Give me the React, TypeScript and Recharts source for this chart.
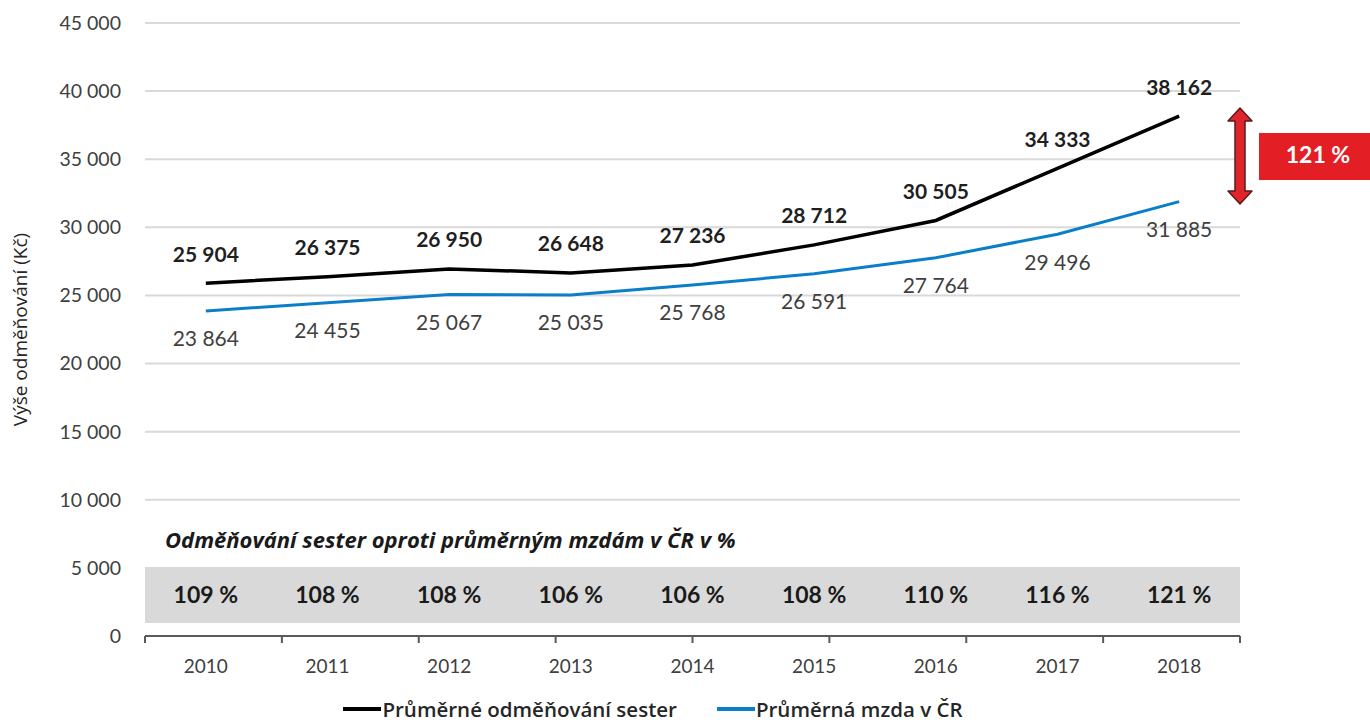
import React from 'react';
import { LineChart, Line, XAxis, YAxis, CartesianGrid, ReferenceArea, ReferenceDot, Legend, LabelList } from 'recharts';

const years = ['2010', '2011', '2012', '2013', '2014', '2015', '2016', '2017', '2018'];
const nurses = [25904, 26375, 26950, 26648, 27236, 28712, 30505, 34333, 38162];
const average = [23864, 24455, 25067, 25035, 25768, 26591, 27764, 29496, 31885];
const ratio = [109, 108, 108, 106, 106, 108, 110, 116, 121];
const yTicks = [0, 5000, 10000, 15000, 20000, 25000, 30000, 35000, 40000, 45000];
const edgeTicks = [0, 1, 2, 3, 4, 5, 6, 7, 8, 9];

const data = years.map((y, i) => ({ year: y, nurses: nurses[i], average: average[i], ratio: ratio[i] }));

const FONT = 'Lato, "Open Sans", sans-serif';
const FONT2 = '"Open Sans", Lato, sans-serif';
const fmt = (v: number) => String(v).replace(/\B(?=(\d{3})+(?!\d))/g, ' ');

const BLACK = '#000000';
const BLUE = '#0a7fc8';

const NurseLabel = (props: any) => {
  const { x, y, value } = props;
  return (
    <text x={x} y={y - 27} textAnchor="middle" dominantBaseline="middle" fontFamily={FONT} fontSize={21} fontWeight={700} fill="#1f1f1f">
      {fmt(value)}
    </text>
  );
};

const AvgLabel = (props: any) => {
  const { x, y, value } = props;
  return (
    <text x={x} y={y + 30} textAnchor="middle" dominantBaseline="middle" fontFamily={FONT} fontSize={21} fill="#404040">
      {fmt(value)}
    </text>
  );
};

const LegendContent = () => (
  <div style={{ height: 38, paddingTop: 12, boxSizing: 'border-box', display: 'flex', justifyContent: 'center', fontFamily: FONT2, fontSize: 20.5, fontWeight: 600, color: '#262626', lineHeight: '22px', paddingLeft: 66 }}>
    <span style={{ display: 'flex', alignItems: 'center', marginRight: 40 }}>
      <span style={{ display: 'inline-block', width: 38, height: 4, background: BLACK, marginRight: 1 }} />
      Průměrné odměňování sester
    </span>
    <span style={{ display: 'flex', alignItems: 'center' }}>
      <span style={{ display: 'inline-block', width: 38, height: 4, background: BLUE, marginRight: 1 }} />
      Průměrná mzda v ČR
    </span>
  </div>
);

export default function App() {
  return (
    <div style={{ position: 'absolute', left: 0, top: 0, width: 1370, height: 722, background: '#fff' }}>
      <LineChart width={1370} height={722} data={data} margin={{ top: 23, right: 130, bottom: 0, left: 0 }}>
        <CartesianGrid vertical={false} stroke="#d9d9d9" strokeWidth={2} />
        <XAxis xAxisId="z" dataKey="year" scale="band" height={40} axisLine={false} tickLine={false} tickMargin={10}
          tick={{ fontFamily: FONT, fontSize: 19, fill: '#404040' }} />
        <XAxis xAxisId="a" type="number" domain={[0, 9]} ticks={edgeTicks} tickFormatter={() => ''} height={8}
          axisLine={{ stroke: '#595959', strokeWidth: 2 }} tickLine={{ stroke: '#595959', strokeWidth: 2 }} tickSize={7} />
        <YAxis width={145} domain={[0, 45000]} ticks={yTicks} axisLine={false} tickLine={false} tickFormatter={fmt}
          tickMargin={18} tick={{ fontFamily: FONT, fontSize: 19.5, fill: '#404040' }}
          label={{ value: 'Výše odměňování (Kč)', angle: -90, position: 'insideLeft', offset: 20, style: { textAnchor: 'middle', fontFamily: FONT2, fontSize: 19, fill: '#262626' } }} />
        <ReferenceArea xAxisId="z" y1={950} y2={5000} fill="#d9d9d9" fillOpacity={1} stroke="none" />
        {years.map((y, i) => (
          <ReferenceDot key={y} xAxisId="z" x={y} y={3000} r={0} stroke="none" fill="none"
            label={{ value: `${ratio[i]} %`, position: 'center', style: { fontFamily: FONT, fontSize: 23, fontWeight: 700, fill: '#1a1a1a' } }} />
        ))}
        <Line xAxisId="z" type="linear" dataKey="nurses" stroke={BLACK} strokeWidth={3.5} dot={false} isAnimationActive={false}>
          <LabelList dataKey="nurses" content={NurseLabel} />
        </Line>
        <Line xAxisId="z" type="linear" dataKey="average" stroke={BLUE} strokeWidth={3} dot={false} isAnimationActive={false}>
          <LabelList dataKey="average" content={AvgLabel} />
        </Line>
        <Legend verticalAlign="bottom" content={LegendContent} />
      </LineChart>
      <div style={{ position: 'absolute', left: 165, top: 524, fontFamily: FONT2, fontSize: 22, fontWeight: 700, fontStyle: 'italic', color: '#1a1a1a', whiteSpace: 'nowrap' }}>
        Odměňování sester oproti průměrným mzdám v ČR v %
      </div>
      <svg style={{ position: 'absolute', left: 0, top: 0 }} width={1370} height={722}>
        <polygon points="1240,108 1252,121 1245,121 1245,191 1252,191 1240,204 1228,191 1235,191 1235,121 1228,121"
          fill="#e0242b" stroke="#5a1a1a" strokeWidth={1.5} strokeLinejoin="round" />
        <rect x={1259} y={133} width={111} height={47} fill="#e31e24" />
        <text x={1318} y={157} textAnchor="middle" dominantBaseline="middle" fontFamily={FONT} fontSize={23} fontWeight={700} fill="#fff">121 %</text>
      </svg>
    </div>
  );
}
